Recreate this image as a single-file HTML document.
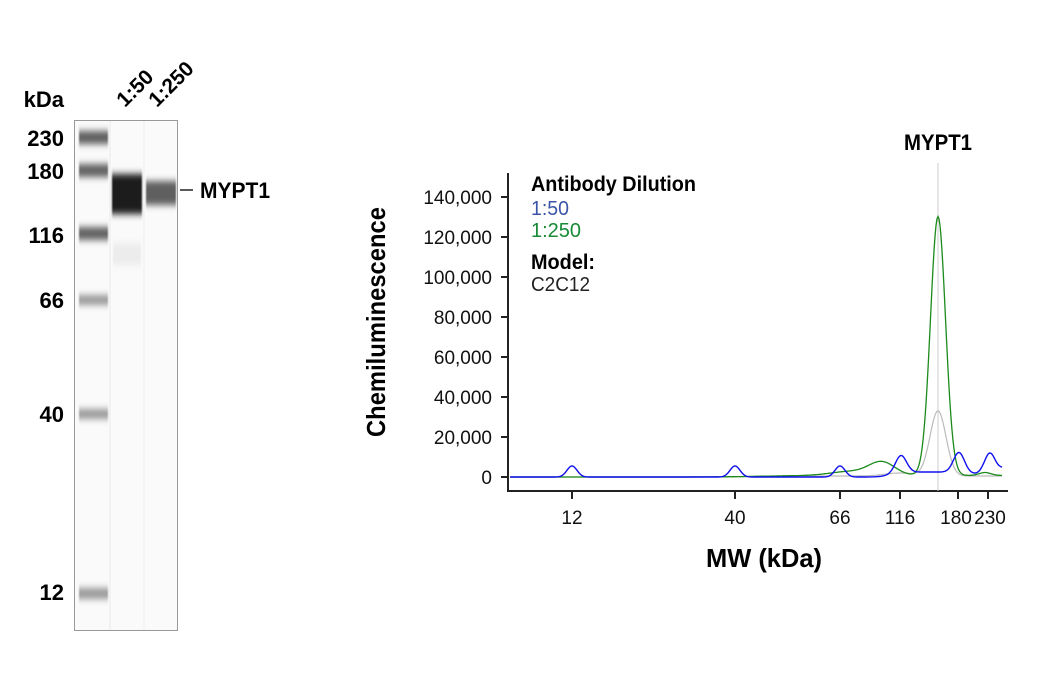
<!DOCTYPE html>
<html><head><meta charset="utf-8"><style>
body{margin:0;background:#fff;width:1040px;height:700px;overflow:hidden}
svg{position:absolute;left:0;top:0}
text{font-family:"Liberation Sans",sans-serif}
.b{font-weight:bold}
</style></head><body>
<svg width="1040" height="700" viewBox="0 0 1040 700">
<defs>
<filter id="bl" x="-20%" y="-100%" width="140%" height="300%"><feGaussianBlur stdDeviation="0.8 3.5"/></filter>
</defs>
<!-- gel -->
<rect x="74.5" y="120.5" width="103" height="510" fill="#fafafa" stroke="#999"/>
<rect x="109" y="121" width="2" height="509" fill="#f2f2f2"/>
<rect x="143" y="121" width="2" height="509" fill="#f4f4f4"/>
<g filter="url(#bl)">
<rect x="79" y="131" width="29" height="13" fill="#5e5e5e"/>
<rect x="79" y="164" width="29" height="13" fill="#626262"/>
<rect x="79" y="227" width="29" height="13" fill="#626262"/>
<rect x="79" y="295" width="29" height="10" fill="#999"/>
<rect x="79" y="409" width="29" height="10" fill="#999"/>
<rect x="79" y="588" width="29" height="11" fill="#999"/>
<rect x="112" y="174" width="30" height="40" fill="#1e1e1e"/>
<rect x="146" y="181" width="30" height="24" fill="#5e5e5e"/>
<rect x="113" y="243" width="28" height="22" fill="#ececec"/>
</g>
<line x1="180" y1="190" x2="193" y2="190" stroke="#000" stroke-width="1.3"/>
<text x="200" y="198" font-size="22" class="b" textLength="70" lengthAdjust="spacingAndGlyphs">MYPT1</text>
<g font-size="22" class="b" text-anchor="end">
<text x="64" y="146">230</text><text x="64" y="179">180</text><text x="64" y="243">116</text>
<text x="64" y="308">66</text><text x="64" y="422">40</text><text x="64" y="600">12</text>
<text x="64" y="107">kDa</text>
</g>
<text class="b" font-size="21" transform="translate(125,108) rotate(-45)">1:50</text>
<text class="b" font-size="21" transform="translate(157,108) rotate(-45)">1:250</text>

<!-- chart -->
<line x1="508" y1="173" x2="508" y2="492" stroke="#222" stroke-width="2"/>
<line x1="508" y1="491" x2="1008" y2="491" stroke="#222" stroke-width="2"/>
<g stroke="#222" stroke-width="2">
<line x1="501" y1="197" x2="508" y2="197"/><line x1="501" y1="237" x2="508" y2="237"/>
<line x1="501" y1="277" x2="508" y2="277"/><line x1="501" y1="317" x2="508" y2="317"/>
<line x1="501" y1="357" x2="508" y2="357"/><line x1="501" y1="397" x2="508" y2="397"/>
<line x1="501" y1="437" x2="508" y2="437"/><line x1="501" y1="477" x2="508" y2="477"/>
<line x1="572" y1="491" x2="572" y2="499"/><line x1="735" y1="491" x2="735" y2="499"/>
<line x1="840" y1="491" x2="840" y2="499"/><line x1="900" y1="491" x2="900" y2="499"/>
<line x1="958" y1="491" x2="958" y2="499"/><line x1="988" y1="491" x2="988" y2="499"/>
</g>
<g font-size="19" text-anchor="end" fill="#111">
<text x="492" y="204">140,000</text><text x="492" y="244">120,000</text><text x="492" y="284">100,000</text>
<text x="492" y="324">80,000</text><text x="492" y="364">60,000</text><text x="492" y="404">40,000</text>
<text x="492" y="444">20,000</text><text x="492" y="484">0</text>
</g>
<g font-size="19" text-anchor="middle" fill="#111">
<text x="572" y="524">12</text><text x="735" y="524">40</text><text x="840" y="524">66</text>
<text x="900" y="524">116</text><text x="956" y="524">180</text><text x="990" y="524">230</text>
</g>
<text x="764" y="567" font-size="26" class="b" text-anchor="middle" textLength="116" lengthAdjust="spacingAndGlyphs">MW (kDa)</text>
<text class="b" font-size="26" text-anchor="middle" transform="translate(385,322) rotate(-90)" textLength="230" lengthAdjust="spacingAndGlyphs">Chemiluminescence</text>
<line x1="938" y1="163" x2="938" y2="491" stroke="#ccc" stroke-width="1"/>
<text x="938" y="150" font-size="22" class="b" text-anchor="middle" textLength="68" lengthAdjust="spacingAndGlyphs">MYPT1</text>
<text x="531" y="191" font-size="21" class="b" textLength="165" lengthAdjust="spacingAndGlyphs">Antibody Dilution</text>
<text x="531" y="215" font-size="20" fill="#3a55a8" textLength="38" lengthAdjust="spacingAndGlyphs">1:50</text>
<text x="531" y="237" font-size="20" fill="#178a36" textLength="50" lengthAdjust="spacingAndGlyphs">1:250</text>
<text x="531" y="269" font-size="21" class="b" textLength="64" lengthAdjust="spacingAndGlyphs">Model:</text>
<text x="531" y="291" font-size="20" fill="#222" textLength="59" lengthAdjust="spacingAndGlyphs">C2C12</text>
<path id="g" fill="none" stroke="#bbb" stroke-width="1.2"/>
<path id="gr" fill="none" stroke="#1b8a1b" stroke-width="1.3"/>
<path id="bu" fill="none" stroke="#1010ee" stroke-width="1.4"/>
</svg>
<script>
function sg(x,c,w){return 1/(1+Math.exp(-(x-c)/w));}
function mk(id,base,peaks,x0,x1,bfn){var d="";for(var x=x0;x<=x1;x+=1){var y=base+(bfn?bfn(x):0);for(var p of peaks){y-=p[1]*Math.exp(-Math.pow((x-p[0])/p[2],2)/2);}d+=(x==x0?"M":"L")+x+","+y.toFixed(1);}document.getElementById(id).setAttribute("d",d);}
mk("bu",477,[[572,11,5],[735,11,5],[840,11,5],[901,17,5.5],[959,20,5.5],[990,21,5.5],[1003,5,4]],510,1002,function(x){return -5*sg(x,890,5)+2*sg(x,965,5);});
mk("gr",477,[[938,259,7.5],[882,13,13],[850,4,20],[985,3,6]],510,1002,function(x){return -1.5*sg(x,760,20);});
mk("g",477,[[938,65,8],[900,3,15]],510,1002,function(x){return -1*sg(x,760,20);});
</script>
</body></html>
